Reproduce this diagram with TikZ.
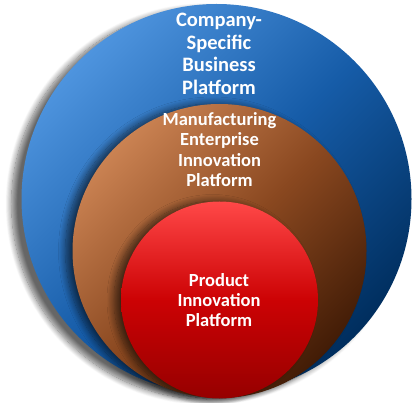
\documentclass[tikz,border=0pt]{standalone}
\usepackage{fontspec}
\setmainfont{Carlito}
\usetikzlibrary{shadows.blur}
\definecolor{blueLight}{RGB}{78,148,222}
\definecolor{blueMid}{RGB}{22,92,168}
\definecolor{blueDark}{RGB}{0,46,94}
\definecolor{brownLight}{RGB}{202,130,82}
\definecolor{brownMid}{RGB}{138,72,32}
\definecolor{brownDark}{RGB}{66,28,6}
\definecolor{redTop}{RGB}{255,72,72}
\definecolor{redMid}{RGB}{204,2,4}
\definecolor{redBot}{RGB}{150,0,0}
\tikzset{
  ring/.style={circle, inner sep=0pt, minimum size=#1},
  lbl/.style={text=white, align=center, inner sep=0pt, font=\bfseries},
}
\begin{document}
\begin{tikzpicture}[x=1pt,y=-1pt]
\useasboundingbox (0,0) rectangle (417,403);
% outer blue
\node[ring=390pt, shading=axis, top color=blueLight, bottom color=blueDark, middle color=blueMid, shading angle=45,
  blur shadow={shadow xshift=-10pt, shadow yshift=-5pt, shadow blur radius=6pt, shadow blur steps=12, shadow opacity=60}]
  (outer) at (216.5,199) {};
% middle brown
\node[ring=294pt, shading=axis, top color=brownLight, bottom color=brownDark, middle color=brownMid, shading angle=45,
  blur shadow={shadow xshift=-7pt, shadow yshift=0pt, shadow blur radius=7pt, shadow blur steps=12, shadow opacity=60}]
  (middle) at (219.5,251) {};
% inner red
\node[ring=197pt, shading=axis, top color=redTop, bottom color=redBot, middle color=redMid,
  blur shadow={shadow xshift=-7pt, shadow yshift=0pt, shadow blur radius=7pt, shadow blur steps=12, shadow opacity=60}]
  (inner) at (219.5,300) {};
% labels
\node[lbl, font=\bfseries\fontsize{20.5}{22.6}\selectfont] (t1) at (219,54) {Company-\\Specific\\Business\\Platform};
\node[lbl, font=\bfseries\fontsize{18.5}{20.3}\selectfont] (t2) at (219.5,149.5) {Manufacturing\\Enterprise\\Innovation\\Platform};
\node[lbl, font=\bfseries\fontsize{18.5}{20}\selectfont] (t3) at (219,300.5) {Product\\Innovation\\Platform};
\end{tikzpicture}
\end{document}
